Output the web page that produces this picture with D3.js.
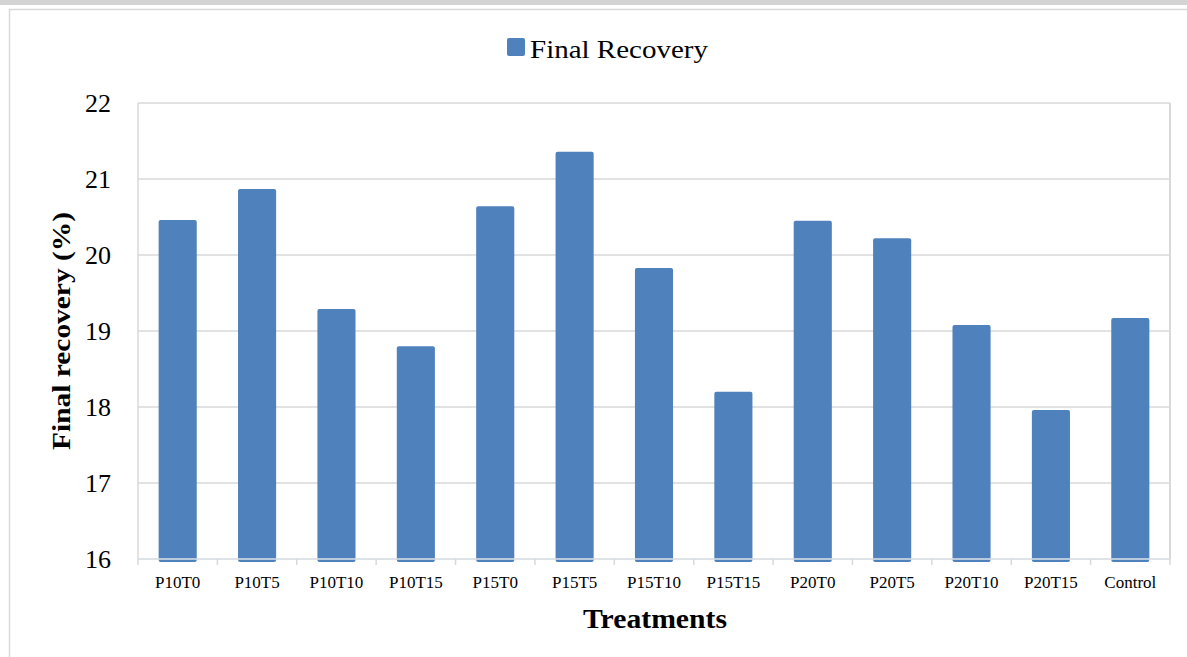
<!DOCTYPE html>
<html>
<head>
<meta charset="utf-8">
<script src="https://cdn.jsdelivr.net/npm/d3@7"></script>
<style>
  html, body { margin: 0; padding: 0; background: #fff; }
  svg { display: block; }
</style>
</head>
<body>
<svg id="chart" width="1187" height="657"></svg>
<script>
// Final recovery (%) by treatment
const categories = ["P10T0", "P10T5", "P10T10", "P10T15", "P15T0", "P15T5", "P15T10",
                    "P15T15", "P20T0", "P20T5", "P20T10", "P20T15", "Control"];
const finalRecovery = [20.46, 20.87, 19.29, 18.80, 20.64, 21.36, 19.83,
                       18.20, 20.45, 20.22, 19.08, 17.96, 19.17];
const yTicks = [16, 17, 18, 19, 20, 21, 22];
const seriesName = "Final Recovery";

const svg = d3.select("#chart");
const serif = "'Liberation Serif', 'Times New Roman', serif";
const barColor = "#4f81bd";
const gridColor = "#d9d9d9";

// page strip and chart frame
svg.append("rect").attr("x", 0).attr("y", 0).attr("width", 1187).attr("height", 5).attr("fill", "#d4d4d4");
svg.append("path")
  .attr("d", "M9.5,657 V9.5 H1187")
  .attr("fill", "none").attr("stroke", gridColor).attr("stroke-width", 1.5);

const plot = { left: 138, right: 1170, top: 103, bottom: 559 };

const x = d3.scaleBand().domain(categories).range([plot.left, plot.right]).paddingInner(0.52).paddingOuter(0.26);
const y = d3.scaleLinear().domain([16, 22]).range([plot.bottom, plot.top]);

// gridlines
svg.append("g").selectAll("line").data(yTicks).join("line")
  .attr("x1", plot.left).attr("x2", plot.right)
  .attr("y1", d => y(d)).attr("y2", d => y(d))
  .attr("stroke", gridColor).attr("stroke-width", 1.5);

// plot-area side borders
svg.append("line").attr("x1", plot.left).attr("x2", plot.left).attr("y1", plot.top).attr("y2", plot.bottom)
  .attr("stroke", gridColor).attr("stroke-width", 1.5);
svg.append("line").attr("x1", plot.right).attr("x2", plot.right).attr("y1", plot.top).attr("y2", plot.bottom)
  .attr("stroke", gridColor).attr("stroke-width", 2);

// bars
svg.append("g").selectAll("rect").data(categories).join("rect")
  .attr("x", d => x(d))
  .attr("width", x.bandwidth())
  .attr("y", (d, i) => y(finalRecovery[i]))
  .attr("height", (d, i) => y(16) - y(finalRecovery[i]) + 3)
  .attr("rx", 2)
  .attr("fill", barColor);

// x axis with ticks at category boundaries
const bounds = d3.range(categories.length + 1).map(i => plot.left + i * (plot.right - plot.left) / categories.length);
svg.append("line").attr("x1", plot.left).attr("x2", plot.right).attr("y1", y(16)).attr("y2", y(16))
  .attr("stroke", "#dde3ea").attr("stroke-width", 1.5);
svg.append("g").selectAll("line").data(bounds).join("line")
  .attr("x1", d => d).attr("x2", d => d)
  .attr("y1", y(16)).attr("y2", y(16) + 6)
  .attr("stroke", gridColor).attr("stroke-width", 1.5);

svg.append("g").selectAll("text").data(categories).join("text")
  .attr("x", d => x(d) + x.bandwidth() / 2)
  .attr("y", 588)
  .attr("text-anchor", "middle")
  .attr("font-family", serif).attr("font-size", 17).attr("fill", "#000")
  .text(d => d);

// y axis labels
svg.append("g").selectAll("text").data(yTicks).join("text")
  .attr("x", 111)
  .attr("y", d => y(d) + 9)
  .attr("text-anchor", "end")
  .attr("font-family", serif).attr("font-size", 26).attr("fill", "#000")
  .text(d => d);

// axis titles
svg.append("text")
  .attr("transform", `translate(70, ${(plot.top + plot.bottom) / 2}) rotate(-90)`)
  .attr("text-anchor", "middle")
  .attr("font-family", serif).attr("font-size", 26).attr("font-weight", "bold")
  .attr("textLength", 238).attr("lengthAdjust", "spacingAndGlyphs")
  .text("Final recovery (%)");

svg.append("text")
  .attr("x", 655).attr("y", 628)
  .attr("text-anchor", "middle")
  .attr("font-family", serif).attr("font-size", 27).attr("font-weight", "bold")
  .attr("textLength", 144).attr("lengthAdjust", "spacingAndGlyphs")
  .text("Treatments");

// legend
const legend = svg.append("g");
legend.append("rect").attr("x", 507).attr("y", 38).attr("width", 18).attr("height", 18).attr("rx", 2).attr("fill", barColor);
legend.append("text").attr("x", 530).attr("y", 58)
  .attr("font-family", serif).attr("font-size", 26).attr("fill", "#000")
  .attr("textLength", 178).attr("lengthAdjust", "spacingAndGlyphs")
  .text(seriesName);
</script>
</body>
</html>
